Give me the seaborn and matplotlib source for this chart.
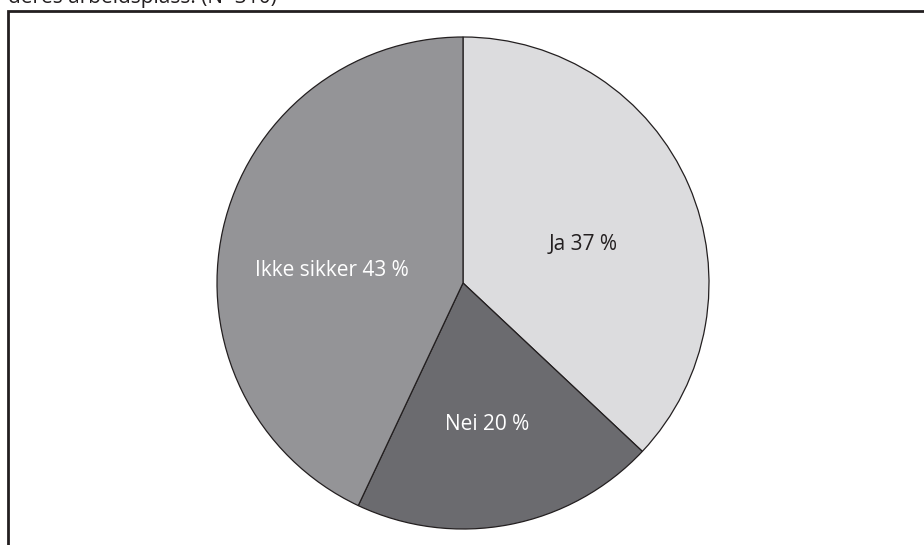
import matplotlib
matplotlib.use("Agg")
import matplotlib.pyplot as plt
import seaborn as sns
from matplotlib.patches import Rectangle

categories = ["Ja", "Nei", "Ikke sikker"]
values = [37, 20, 43]
colors = ["#dcdcde", "#6b6b6f", "#949497"]
label_colors = ["#231f20", "white", "white"]
title_text = "deres arbeidsplass. (N=310)"

sns.set_theme(style="white")
plt.rcParams['font.family'] = ['Open Sans', 'DejaVu Sans']

W, H = 924, 545
fig = plt.figure(figsize=(W / 100, H / 100), dpi=100)
ax = fig.add_axes([0, 0, 1, 1])

cx, cy, r = 463, H - 283, 246
wedges, _ = ax.pie(values, colors=colors, startangle=90, counterclock=False,
                   center=(cx, cy), radius=r,
                   wedgeprops=dict(edgecolor="#231f20", linewidth=0.9))

label_pos = [(583, 244), (487, 425), (332, 270)]
for cat, v, (lx, ly), lc in zip(categories, values, label_pos, label_colors):
    ax.text(lx, H - ly, f"{cat} {v} %", ha="center", va="center",
            fontsize=15, color=lc)

ax.add_patch(Rectangle((8, -20), 1000, H - 11 + 20, fill=False,
                       edgecolor="#231f20", linewidth=2.0, clip_on=False))
ax.text(8, H - 2.5, title_text, ha="left", va="baseline", fontsize=15,
        color="#231f20")

ax.set_xlim(0, W)
ax.set_ylim(0, H)
ax.set_aspect("equal")
ax.axis("off")
fig.savefig("out.png", dpi=100)
